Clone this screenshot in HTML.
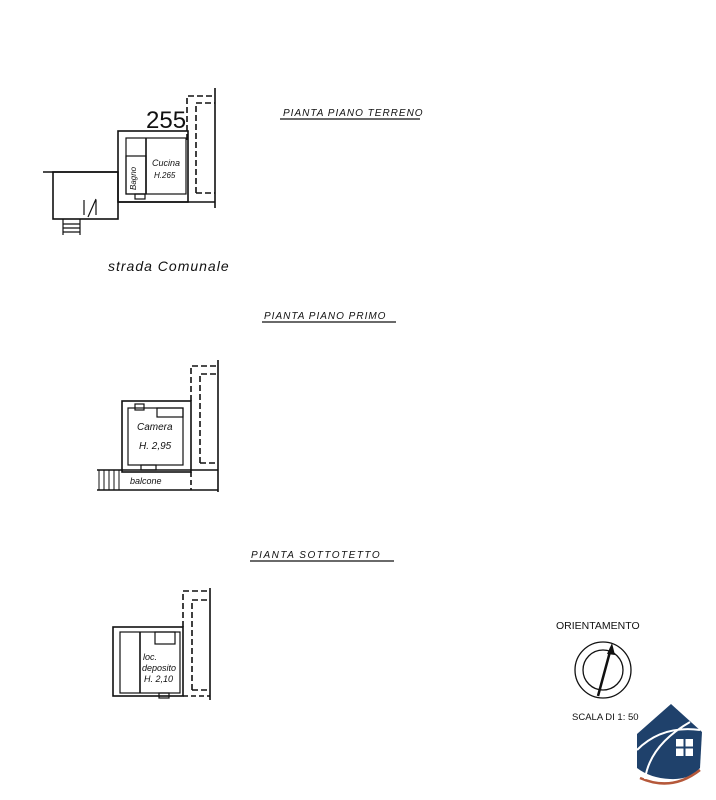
<!DOCTYPE html>
<html><head><meta charset="utf-8"><style>
html,body{margin:0;padding:0;background:#fff;}
svg{display:block}
text{font-family:"Liberation Sans",sans-serif;font-style:italic;fill:#111}
</style></head><body>
<svg width="716" height="800" viewBox="0 0 716 800" xmlns="http://www.w3.org/2000/svg">
<g stroke="#111" fill="none" stroke-width="1.6">
<!-- ground floor -->
<rect x="118" y="131" width="70" height="71"/>
<rect x="126" y="138" width="60" height="56" stroke-width="1.2"/>
<line x1="146" y1="138" x2="146" y2="194"/>
<rect x="126" y="156" width="20" height="38" stroke-width="1.2"/>
<line x1="43" y1="172" x2="118" y2="172"/>
<rect x="53" y="172" width="65" height="47"/>
<line x1="118" y1="202" x2="215" y2="202"/>
<line x1="215" y1="88" x2="215" y2="208"/>
<path d="M187 140 V96 H215" stroke-dasharray="6,3"/>
<path d="M196 193 V103 H215 M196 193 H215" stroke-dasharray="6,3"/>
<path d="M96 199 L88 217 M96 200 V215 M84 200 V215" stroke-width="1.2"/>
<path d="M63 219 V235 M80 219 V235 M63 224 H80 M63 228 H80 M63 232 H80" stroke-width="1.2"/>
<rect x="135" y="194" width="10" height="5" stroke-width="1.2"/>
<!-- first floor -->
<rect x="122" y="401" width="69" height="71"/>
<rect x="128" y="408" width="55" height="57" stroke-width="1.2"/>
<rect x="135" y="404" width="9" height="6" stroke-width="1.2"/>
<rect x="157" y="408" width="26" height="9" stroke-width="1.2"/>
<rect x="141" y="465" width="15" height="5" stroke-width="1.2"/>
<line x1="97" y1="470" x2="218" y2="470"/>
<line x1="97" y1="490" x2="218" y2="490"/>
<path d="M99 470 V490 M104 470 V490 M109 470 V490 M114 470 V490 M119 470 V490" stroke-width="1"/>
<line x1="218" y1="360" x2="218" y2="492"/>
<path d="M191 401 V366 H218" stroke-dasharray="6,3"/>
<path d="M200 463 V374 H218 M200 463 H218" stroke-dasharray="6,3"/>
<line x1="191" y1="472" x2="191" y2="490" stroke-dasharray="5,3"/>
<!-- attic -->
<rect x="113" y="627" width="70" height="69"/>
<rect x="120" y="632" width="60" height="61" stroke-width="1.2"/>
<line x1="140" y1="632" x2="140" y2="693"/>
<rect x="155" y="632" width="20" height="12" stroke-width="1.2"/>
<rect x="159" y="693" width="10" height="5" stroke-width="1.2"/>
<line x1="210" y1="588" x2="210" y2="700"/>
<path d="M183 627 V591 H210" stroke-dasharray="6,3"/>
<path d="M192 690 V600 H210 M192 690 H210" stroke-dasharray="6,3"/>
<line x1="183" y1="696" x2="210" y2="696" stroke-dasharray="5,3"/>
<!-- underlines -->
<line x1="280" y1="119" x2="420" y2="119" stroke-width="1.2"/>
<line x1="262" y1="322" x2="396" y2="322" stroke-width="1.2"/>
<line x1="250" y1="561" x2="394" y2="561" stroke-width="1.2"/>
<!-- compass -->
<circle cx="603" cy="670" r="28" stroke-width="1.3"/>
<circle cx="603" cy="670" r="20" stroke-width="1.3"/>
<line x1="598" y1="696" x2="611" y2="648" stroke-width="2.5"/>
</g>
<polygon points="612,643 607,654 615,655" fill="#111"/>
<text x="146" y="128" font-size="24" style="font-style:normal">255</text>
<text x="152" y="166" font-size="9">Cucina</text>
<text x="154" y="178" font-size="8">H.265</text>
<text x="0" y="0" font-size="8" transform="translate(136,190) rotate(-90)">Bagno</text>
<text x="108" y="271" font-size="14" letter-spacing="1">strada Comunale</text>
<text x="137" y="430" font-size="10">Camera</text>
<text x="139" y="449" font-size="10">H. 2,95</text>
<text x="130" y="484" font-size="9">balcone</text>
<text x="143" y="660" font-size="9">loc.</text>
<text x="142" y="671" font-size="9">deposito</text>
<text x="144" y="682" font-size="9">H. 2,10</text>
<text x="283" y="116" font-size="10" letter-spacing="1">PIANTA PIANO TERRENO</text>
<text x="264" y="319" font-size="10" letter-spacing="1">PIANTA PIANO PRIMO</text>
<text x="251" y="558" font-size="10" letter-spacing="1.5">PIANTA SOTTOTETTO</text>
<text x="556" y="629" font-size="10.5" style="font-style:normal">ORIENTAMENTO</text>
<text x="572" y="720" font-size="9.5" style="font-style:normal">SCALA DI 1: 50</text>
<!-- logo -->
<g>
<path d="M671 704 L702 732 L700 768 Q690 780 670 779 Q650 778 637 768 L637 734 Z" fill="#1f416b"/>
<path d="M640 778 Q672 792 700 770" stroke="#b5583a" stroke-width="2.5" fill="none"/>
<path d="M637 750 Q662 725 700 730 M645 779 Q650 745 690 722" stroke="#fff" stroke-width="2" fill="none"/>
<rect x="676" y="739" width="17" height="17" fill="#fff"/>
<path d="M684.5 739 V756 M676 747.5 H693" stroke="#1f416b" stroke-width="2"/>
</g>
</svg>
</body></html>
